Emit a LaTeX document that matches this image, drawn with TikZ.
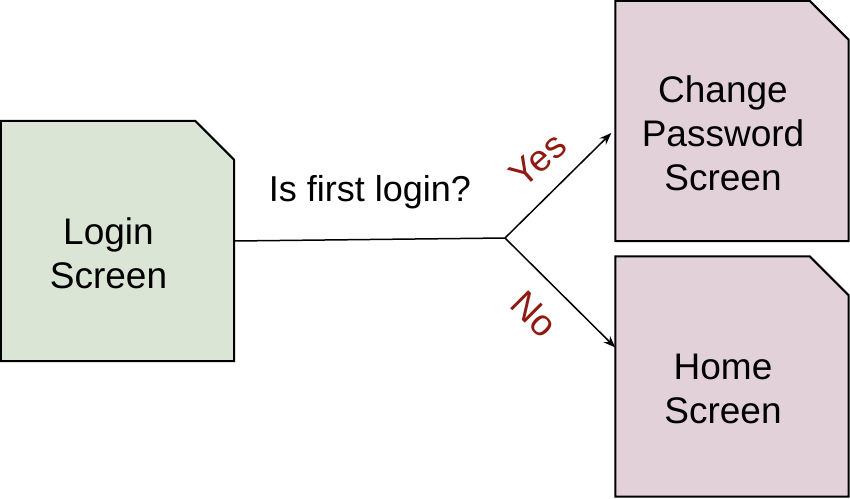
\documentclass[tikz,border=0pt]{standalone}
\usepackage{fontspec}
\setmainfont{Liberation Sans}
\usetikzlibrary{arrows.meta, positioning}
\definecolor{loginfill}{RGB}{219, 229, 213}
\definecolor{screenfill}{RGB}{227, 209, 218}
\definecolor{answer}{RGB}{143, 26, 18}

\tikzset{
    screen/.style={minimum width=233pt, minimum height=240pt, inner sep=0pt},
    screentext/.style={align=center, font=\fontsize{37}{44}\selectfont},
    flow/.style={line width=1.5pt, -{Stealth[length=12pt, width=9pt]}},
    answerlabel/.style={text=answer, font=\fontsize{37}{40}\selectfont}
}

\begin{document}
\begin{tikzpicture}[x=1pt, y=-1pt]
        \useasboundingbox (0,0) rectangle (850,498);

        % 页面 (折角)
        \foreach \page/\pos/\col/\txt in {login/{(117.5,241)}/loginfill/{Login\\Screen},
                change/{(732,121)}/screenfill/{Change\\Password\\Screen},
                home/{(732,376.5)}/screenfill/{Home\\Screen}} {
            \node[screen] (\page) at \pos {};
            \filldraw[fill=\col, draw=black, line width=2pt, line join=miter]
                (\page.south west) -- (\page.north west) -- ([xshift=-39pt]\page.north east)
                -- ([yshift=-39pt]\page.north east) -- (\page.south east) -- cycle;
            \node[screentext] (\page-text) at ([xshift=-9pt, yshift=-12pt]\page.center) {\txt};
        }

        % 判断
        \coordinate (split) at (505, 238);
        \draw[line width=1.5pt] (login.east) -- (split);
        \node[font=\fontsize{36}{44}\selectfont] (question) at (370, 192) {Is first login?};

        \draw[flow] (split) -- ([xshift=-4pt, yshift=-12pt]change.west);
        \draw[flow] (split) -- ([yshift=29pt]home.west);

        \node[answerlabel, rotate=42] (yes) at (538, 160) {Yes};
        \node[answerlabel, rotate=-45] (no) at (534, 314) {No};

    \end{tikzpicture}
\end{document}
